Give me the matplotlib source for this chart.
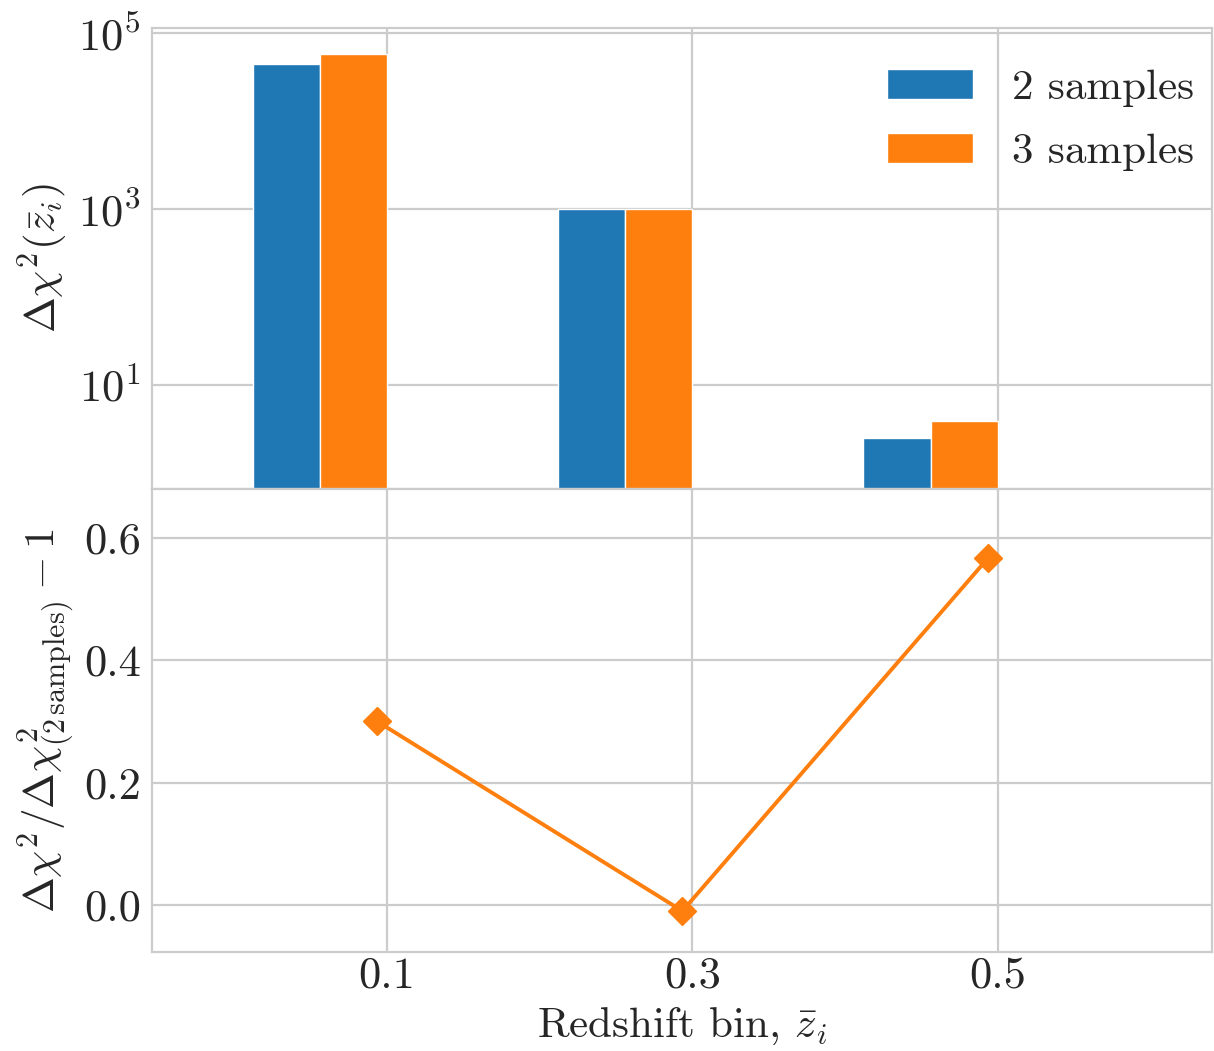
import numpy as np
import matplotlib
matplotlib.use("Agg")
import matplotlib.pyplot as plt

# delta chi^2 per redshift bin for the two sample splits
zbins = ["0.1", "0.3", "0.5"]
chi2_2samples = [44300.0, 1000.0, 2.48]
chi2_3samples = [57600.0, 990.0, 3.885]
labels = ["2 samples", "3 samples"]
colors = ["#1f77b4", "#ff7f0e"]

plt.style.use("seaborn-v0_8-whitegrid")
plt.rcParams.update({
    "font.family": "serif",
    "font.serif": ["cmr10"],
    "mathtext.fontset": "cm",
    "axes.formatter.use_mathtext": True,
    "axes.unicode_minus": False,
    "font.size": 31,
    "axes.labelsize": 31,
    "xtick.labelsize": 32,
    "ytick.labelsize": 32,
    "legend.fontsize": 31,
    "ytick.major.pad": 8,
    "axes.edgecolor": "#cccccc",
    "grid.color": "#cccccc",
    "axes.linewidth": 1.6,
    "grid.linewidth": 1.6,
    "text.color": "#262626",
    "axes.labelcolor": "#262626",
    "xtick.color": "#262626",
    "ytick.color": "#262626",
})

x = np.arange(len(zbins))
chi2_2 = np.array(chi2_2samples)
chi2_3 = np.array(chi2_3samples)
ratio = chi2_3 / chi2_2 - 1

fig = plt.figure(figsize=(12.14, 10.51), dpi=100)
ax1 = fig.add_axes([0.1252, 0.5347, 0.8728, 0.4387])
ax2 = fig.add_axes([0.1252, 0.0942, 0.8728, 0.4405], sharex=ax1)

w = 0.22
ax1.bar(x - 2 * w, chi2_2, width=w, align="edge", color=colors[0],
        edgecolor="white", linewidth=1.0, label=labels[0])
ax1.bar(x - w, chi2_3, width=w, align="edge", color=colors[1],
        edgecolor="white", linewidth=1.0, label=labels[1])
ax1.set_yscale("log")
ax1.set_ylim(0.65, 10**5.06)
ax1.set_yticks([1e1, 1e3, 1e5])
ax1.minorticks_off()
ax1.set_ylabel(r"$\Delta\chi^2(\bar{z}_i)$", labelpad=6)
ax1.tick_params(axis="x", labelbottom=False)
ax1.set_axisbelow(True)
ax1.legend(loc="upper right", bbox_to_anchor=(1.022, 1.0), frameon=False,
           handlelength=2.0, handletextpad=0.9, labelspacing=0.6,
           borderaxespad=0.55, borderpad=0.4)

ax2.plot(x - 0.033, ratio, color=colors[1], lw=2.8, marker="D", ms=14)
ax2.set_ylim(-0.077, 0.68)
ax2.set_yticks([0.0, 0.2, 0.4, 0.6])
ax2.set_yticklabels(["0.0", "0.2", "0.4", "0.6"])
ax2.set_xlim(-0.77, 2.70)
ax2.set_xticks(x)
ax2.set_xticklabels(zbins)
ax2.set_xlabel(r"Redshift bin, $\bar{z}_i$", labelpad=6)
ax2.set_ylabel(r"$\Delta\chi^2/\Delta\chi^2_{(2\,\mathrm{samples})} - 1$", labelpad=4)

fig.align_ylabels([ax1, ax2])
fig.savefig("out.png", dpi=100)
